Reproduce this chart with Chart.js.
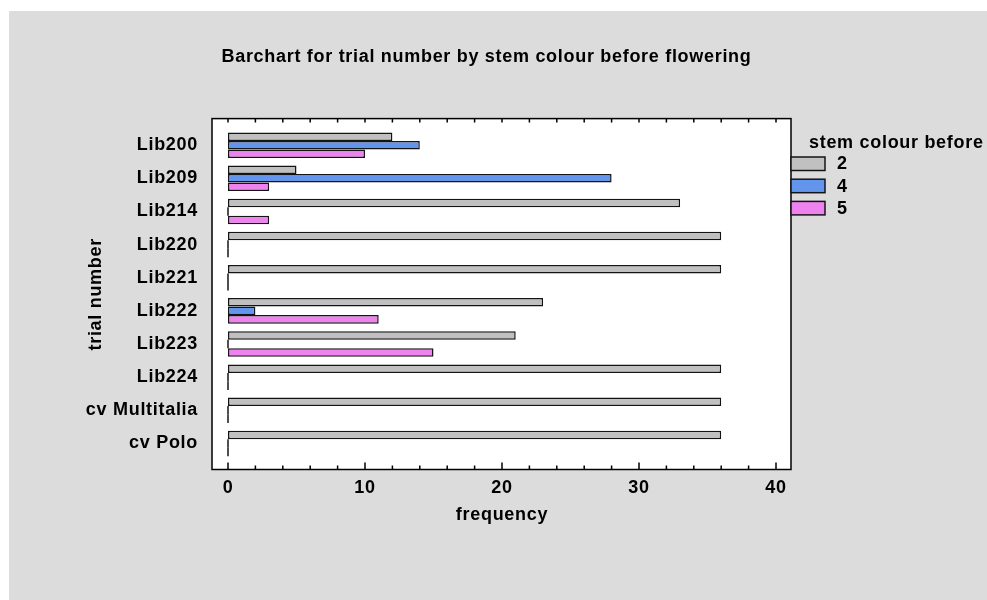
<!DOCTYPE html>
<html>
<head>
<meta charset="utf-8">
<title>Barchart for trial number by stem colour before flowering</title>
<script src="https://cdn.jsdelivr.net/npm/chart.js@4.4.1/dist/chart.umd.min.js"></script>
<style>
  body { margin: 0; background: #fff; }
  canvas { display: block; }
</style>
</head>
<body>
<canvas id="stemChart" width="987" height="600"></canvas>
<script>
// trial numbers, top to bottom
const trials = ['Lib200', 'Lib209', 'Lib214', 'Lib220', 'Lib221', 'Lib222', 'Lib223', 'Lib224', 'cv Multitalia', 'cv Polo'];

// counts per stem colour class
const colourLevels = ['2', '4', '5'];
const colour2 = [12, 5, 33, 36, 36, 23, 21, 36, 36, 36];
const colour4 = [14, 28, 0, 0, 0, 2, 0, 0, 0, 0];
const colour5 = [10, 3, 3, 0, 0, 11, 15, 0, 0, 0];

const freqTicks = [0, 10, 20, 30, 40];

const fills = ['#c0c0c0', '#6495ed', '#ee82ee'];
const edge = '#141414';
const bold = { size: 18, weight: 'bold' };

Chart.defaults.font.family = '"Liberation Sans", Arial, sans-serif';
Chart.defaults.color = '#000';

// slightly looser lettering for all text on the canvas
const spacingPlugin = {
  id: 'spacing',
  beforeUpdate(chart) { chart.ctx.letterSpacing = '0.7px'; },
  beforeDraw(chart) { chart.ctx.letterSpacing = '0.7px'; }
};

// grey panel, white plot box, inner tick marks, zero-length bars and the legend
const framePlugin = {
  id: 'frame',
  beforeDraw(chart) {
    const { ctx, chartArea: a } = chart;
    ctx.save();
    ctx.fillStyle = '#fff';
    ctx.fillRect(0, 0, chart.width, chart.height);
    ctx.fillStyle = '#dcdcdc';
    ctx.fillRect(9, 11, chart.width - 9, chart.height - 11);
    ctx.fillStyle = '#fff';
    ctx.fillRect(a.left - 16, a.top - 10, a.right - a.left + 31, a.bottom - a.top + 19.5);
    ctx.restore();
  },
  afterDatasetsDraw(chart) {
    const { ctx, chartArea: a } = chart;
    const xs = chart.scales.x;
    const box = { l: a.left - 16, t: a.top - 10, r: a.right + 15, b: a.bottom + 9.5 };
    ctx.save();

    // bars with a count of 0 still show a thin line at the origin
    ctx.strokeStyle = edge;
    ctx.lineWidth = 1.5;
    chart.data.datasets.forEach((ds, i) => {
      chart.getDatasetMeta(i).data.forEach((el, j) => {
        if (ds.data[j] === 0) {
          ctx.beginPath();
          ctx.moveTo(el.x, el.y - el.height / 2);
          ctx.lineTo(el.x, el.y + el.height / 2);
          ctx.stroke();
        }
      });
    });

    ctx.strokeStyle = '#000';
    ctx.lineWidth = 1.5;
    ctx.strokeRect(box.l, box.t, box.r - box.l, box.b - box.t);
    for (let v = 0; v <= 40; v += 2) {
      const px = xs.getPixelForValue(v);
      ctx.beginPath();
      ctx.moveTo(px, box.b);
      ctx.lineTo(px, box.b - (v % 10 === 0 ? 7 : 4));
      ctx.moveTo(px, box.t);
      ctx.lineTo(px, box.t + 4);
      ctx.stroke();
    }

    // legend to the right of the plot
    ctx.font = 'bold 18px "Liberation Sans", Arial, sans-serif';
    ctx.textBaseline = 'middle';
    ctx.fillStyle = '#000';
    ctx.fillText('stem colour before', box.r + 18, 143);
    chart.data.datasets.forEach((ds, i) => {
      const y = 157 + i * 22.2;
      ctx.fillStyle = ds.backgroundColor;
      ctx.fillRect(box.r, y, 34, 13.5);
      ctx.strokeStyle = edge;
      ctx.lineWidth = 1.5;
      ctx.strokeRect(box.r, y, 34, 13.5);
      ctx.fillStyle = '#000';
      ctx.fillText(colourLevels[i], box.r + 46, y + 7.5);
    });
    ctx.restore();
  }
};

const series = [colour2, colour4, colour5];

new Chart(document.getElementById('stemChart'), {
  type: 'bar',
  data: {
    labels: trials,
    datasets: series.map((vals, i) => ({
      label: colourLevels[i],
      data: vals,
      backgroundColor: fills[i],
      borderColor: edge,
      borderWidth: 1.5,
      borderSkipped: false,
      categoryPercentage: 0.77,
      barPercentage: 1
    }))
  },
  options: {
    indexAxis: 'y',
    responsive: false,
    animation: false,
    layout: { padding: { left: 0, right: 14, top: 0, bottom: 0 } },
    plugins: {
      legend: { display: false },
      tooltip: { enabled: false },
      title: {
        display: true,
        text: 'Barchart for trial number by stem colour before flowering',
        font: bold,
        color: '#000',
        padding: { top: 46.5, bottom: 60.5 }
      }
    },
    scales: {
      x: {
        min: 0,
        max: 40,
        afterFit(scale) { scale.height = 140; },
        afterBuildTicks(scale) { scale.ticks = freqTicks.map(v => ({ value: v })); },
        grid: { display: false, drawTicks: false },
        border: { display: false },
        ticks: { font: bold, padding: 17, maxRotation: 0 },
        title: { display: true, text: 'frequency', font: bold, padding: { top: 0, bottom: 74 } }
      },
      y: {
        afterFit(scale) { scale.width = 228; },
        grid: { display: false, drawTicks: false },
        border: { display: false },
        ticks: { font: bold, padding: 30 },
        title: { display: true, text: 'trial number', font: bold, padding: { top: 85, bottom: 0 } }
      },
      // empty strip on the right that holds the legend
      side: {
        type: 'category',
        axis: 'y',
        position: 'right',
        afterFit(scale) { scale.width = 197; },
        grid: { display: false, drawTicks: false },
        border: { display: false },
        ticks: { display: false }
      }
    }
  },
  plugins: [spacingPlugin, framePlugin]
});
</script>
</body>
</html>
